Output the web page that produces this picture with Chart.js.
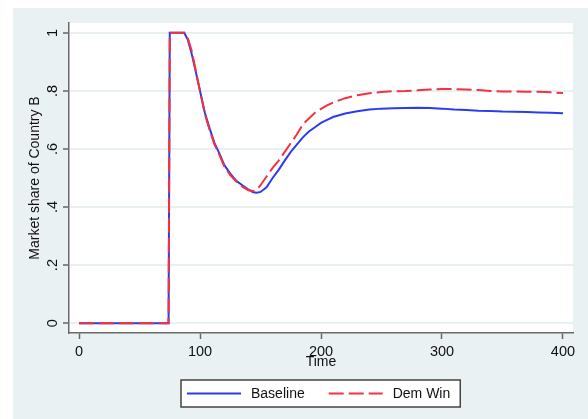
<!DOCTYPE html>
<html>
<head>
<meta charset="utf-8">
<script src="https://cdn.jsdelivr.net/npm/chart.js@4"></script>
<style>
  html, body { margin: 0; padding: 0; background: #ffffff; }
  #wrap { position: absolute; left: 13px; top: 8px; width: 575px; height: 411px; background: #eaf1f3; }
  canvas { display: block; }
</style>
</head>
<body>
<div id="wrap"><canvas id="share-chart" width="575" height="411"></canvas></div>
<script>
// ── データ ──────────────────────────────────────────────
const TIME = [
  0, 74, 75, 87, 90, 93, 96, 100, 104, 108, 112, 116, 120, 125, 130, 135, 140, 144, 147,
  150, 155, 160, 165, 170, 175, 180, 185, 190, 195, 200, 205, 210, 220, 230, 240, 250,
  260, 270, 280, 290, 300, 310, 320, 330, 340, 350, 360, 370, 380, 390, 400,
];
const BASELINE = [
  0, 0, 1, 1, 0.975, 0.93, 0.875, 0.80, 0.725, 0.67, 0.62, 0.585, 0.545, 0.515, 0.49, 0.475, 0.46, 0.451, 0.449,
  0.452, 0.468, 0.50, 0.528, 0.56, 0.59, 0.615, 0.64, 0.66, 0.675, 0.69, 0.70, 0.71, 0.722, 0.73, 0.736, 0.739,
  0.74, 0.741, 0.742, 0.741, 0.739, 0.736, 0.734, 0.732, 0.731, 0.729, 0.728, 0.727, 0.726, 0.725, 0.723,
];
const DEM_WIN = [
  0, 0, 1, 1, 0.98, 0.94, 0.88, 0.80, 0.72, 0.665, 0.615, 0.58, 0.54, 0.51, 0.488, 0.47, 0.458, 0.455, 0.46,
  0.475, 0.505, 0.535, 0.56, 0.59, 0.62, 0.65, 0.685, 0.705, 0.725, 0.738, 0.75, 0.76, 0.775, 0.785, 0.792, 0.796,
  0.799, 0.80, 0.802, 0.805, 0.807, 0.806, 0.805, 0.803, 0.80, 0.798, 0.798, 0.797, 0.797, 0.795, 0.793,
];

const X_TICKS  = [0, 100, 200, 300, 400];
const Y_TICKS  = [0, 0.2, 0.4, 0.6, 0.8, 1];
const Y_LABELS = ["0", ".2", ".4", ".6", ".8", "1"];

const FONT = "'Liberation Sans', Arial, Helvetica, sans-serif";

// ── プロット領域の白背景 ────────────────────────────────
const plotBgPlugin = {
  id: "plotBg",
  beforeDraw(c) {
    const { ctx, chartArea: a } = c;
    ctx.save();
    ctx.fillStyle = "#ffffff";
    ctx.fillRect(a.left, a.top, a.right - a.left, a.bottom - a.top);
    ctx.restore();
  },
};

// ── 枠付き凡例 ──────────────────────────────────────────
const boxLegendPlugin = {
  id: "boxLegend",
  afterDraw(c) {
    const { ctx, chartArea: a } = c;
    const sets = c.data.datasets;
    ctx.save();
    ctx.font = "14px " + FONT;
    const lineW = 54, padL = 6, gapT = 10, gapItem = 24, padR = 10;
    const widths = sets.map((d) => ctx.measureText(d.label).width);
    const boxW = padL + lineW + gapT + widths[0] + gapItem + lineW + gapT + widths[1] + padR;
    const boxH = 27;
    const x0 = Math.round((a.left + a.right) / 2 - boxW / 2);
    const y0 = 372;
    ctx.fillStyle = "#ffffff";
    ctx.fillRect(x0, y0, boxW, boxH);
    ctx.strokeStyle = "#444444";
    ctx.lineWidth = 1.5;
    ctx.strokeRect(x0, y0, boxW, boxH);

    let x = x0 + padL;
    const cy = y0 + boxH / 2;
    sets.forEach((d, i) => {
      ctx.beginPath();
      ctx.setLineDash(d.borderDash || []);
      ctx.strokeStyle = d.borderColor;
      ctx.lineWidth = d.borderWidth;
      ctx.moveTo(x, cy);
      ctx.lineTo(x + lineW, cy);
      ctx.stroke();
      ctx.setLineDash([]);
      x += lineW + gapT;
      ctx.fillStyle = "#111111";
      ctx.textBaseline = "middle";
      ctx.textAlign = "left";
      ctx.fillText(d.label, x, cy + 1);
      x += widths[i] + gapItem;
    });
    ctx.restore();
  },
};

// ── チャート描画 ────────────────────────────────────────
const toPoints = (ys) => TIME.map((t, i) => ({ x: t, y: ys[i] }));

new Chart(document.getElementById("share-chart").getContext("2d"), {
  type: "line",
  plugins: [plotBgPlugin, boxLegendPlugin],
  data: {
    datasets: [
      {
        label: "Baseline",
        data: toPoints(BASELINE),
        borderColor: "#2b3bf0",
        borderWidth: 2,
        pointRadius: 0,
        tension: 0,
        order: 1,
      },
      {
        label: "Dem Win",
        data: toPoints(DEM_WIN),
        borderColor: "#f5303f",
        borderWidth: 2,
        borderDash: [15, 5],
        pointRadius: 0,
        tension: 0,
        order: 0,
      },
    ],
  },
  options: {
    responsive: false,
    animation: false,
    layout: { padding: { top: 15, right: 15, left: 0, bottom: 41 } },
    plugins: {
      legend: { display: false },
      tooltip: { enabled: false },
    },
    scales: {
      x: {
        type: "linear",
        min: -8.3,
        max: 408.3,
        afterBuildTicks: (s) => { s.ticks = X_TICKS.map((v) => ({ value: v })); },
        afterFit: (s) => { s.height = 45; },
        grid: { drawOnChartArea: false, drawTicks: true, tickLength: 6, tickColor: "#666666", tickWidth: 1.5 },
        border: { color: "#6b6b6b", width: 1.5 },
        ticks: { color: "#111111", padding: 4, maxRotation: 0, font: { family: FONT, size: 14.5 } },
        title: { display: true, text: "Time", color: "#111111", padding: { top: 0, bottom: 7.6 }, font: { family: FONT, size: 14 } },
      },
      y: {
        type: "linear",
        min: -0.034,
        max: 1.034,
        afterBuildTicks: (s) => { s.ticks = Y_TICKS.map((v) => ({ value: v })); },
        afterFit: (s) => { s.width = 56; },
        grid: { color: "#e9f0f0", lineWidth: 2, drawTicks: true, tickLength: 6, tickColor: "#666666", tickWidth: 1.5 },
        border: { color: "#6b6b6b", width: 1.5 },
        ticks: {
          color: "#111111",
          padding: 4,
          minRotation: 90,
          maxRotation: 90,
          crossAlign: "center",
          font: { family: FONT, size: 14.5 },
          callback: (v) => Y_LABELS[Y_TICKS.indexOf(v)] ?? "",
        },
        title: { display: true, text: "Market share of Country B", color: "#111111", padding: { top: 13.6, bottom: 0 }, font: { family: FONT, size: 14 } },
      },
    },
  },
});
</script>
</body>
</html>
